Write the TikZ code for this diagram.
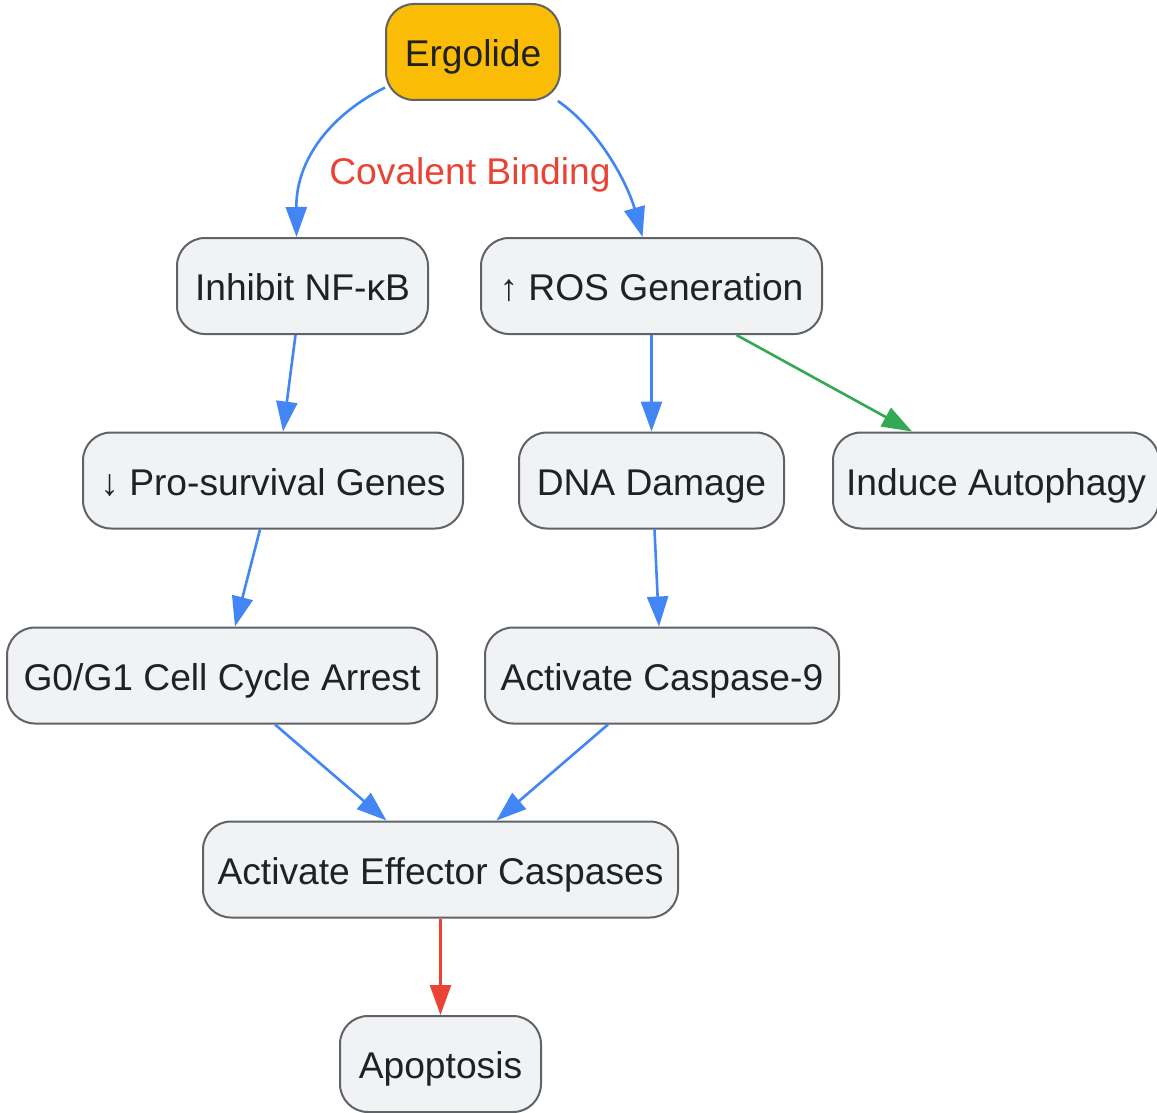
\documentclass[tikz,border=0pt]{standalone}
\usepackage{fontspec}
\setmainfont{Liberation Sans}
\usetikzlibrary{arrows.meta}
\definecolor{gblue}{HTML}{4285F4}
\definecolor{ggreen}{HTML}{34A853}
\definecolor{gred}{HTML}{EA4335}
\definecolor{gamber}{HTML}{FBBC05}
\definecolor{boxfill}{HTML}{F1F2F4}
\definecolor{boxline}{HTML}{5F6368}
\definecolor{txt}{HTML}{202124}
\tikzset{
  box/.style={draw=boxline, line width=2pt, fill=boxfill, rounded corners=28pt,
    minimum height=96pt, inner sep=0pt, text=txt,
    text height=29.4pt, text depth=0pt,
    font=\fontsize{37.2}{44}\selectfont},
  conn/.style={line width=2.6pt, -{Triangle[length=30pt,width=21pt]}},
  bl/.style={conn, draw=gblue},
  gr/.style={conn, draw=ggreen},
  rd/.style={conn, draw=gred},
}
\begin{document}
\begin{tikzpicture}[x=1pt,y=-1pt]
\useasboundingbox (0,0) rectangle (1157,1113);
\node[box, fill=gamber, minimum width=174pt] (erg) at (473,52) {Ergolide};
\node[box, minimum width=251pt] (inh) at (302.5,286) {Inhibit NF-κB};
\node[box, minimum width=341pt] (ros) at (651.5,286) {↑ ROS Generation};
\node[box, minimum width=380pt] (pro) at (273,480.5) {↓ Pro-survival Genes};
\node[box, minimum width=265pt] (dna) at (651.5,480.5) {DNA Damage};
\node[box, minimum width=326pt] (aut) at (996,480.5) {Induce Autophagy};
\node[box, minimum width=430pt] (g0) at (222,675.5) {G0/G1 Cell Cycle Arrest};
\node[box, minimum width=354pt] (c9) at (662,675.5) {Activate Caspase-9};
\node[box, minimum width=475pt] (eff) at (440.5,869.5) {Activate Effector Caspases};
\node[box, minimum width=201pt] (apo) at (440.5,1064) {Apoptosis};
\node[text=gred, anchor=base, inner sep=0pt, font=\fontsize{37.2}{44}\selectfont] (lbl) at (470,184) {Covalent Binding};
\draw[bl] (erg.202) .. controls (330,115) and (296,160) .. ([xshift=-6pt]inh.north);
\draw[bl] (erg.-30) .. controls (600,130) and (628,185) .. ([xshift=-9pt]ros.north);
\draw[bl] ([xshift=-7pt]inh.south) -- ([xshift=10pt]pro.north);
\draw[bl] ([xshift=-13pt]pro.south) -- ([xshift=13pt]g0.north);
\draw[bl] (ros.south) -- (dna.north);
\draw[gr] ([xshift=85pt]ros.south) -- ([xshift=-84pt]aut.north);
\draw[bl] ([xshift=3pt]dna.south) -- ([xshift=-3pt]c9.north);
\draw[bl] ([xshift=53pt]g0.south) -- ([xshift=-54pt]eff.north);
\draw[bl] ([xshift=-54pt]c9.south) -- ([xshift=56pt]eff.north);
\draw[rd] (eff.south) -- (apo.north);
\end{tikzpicture}
\end{document}
